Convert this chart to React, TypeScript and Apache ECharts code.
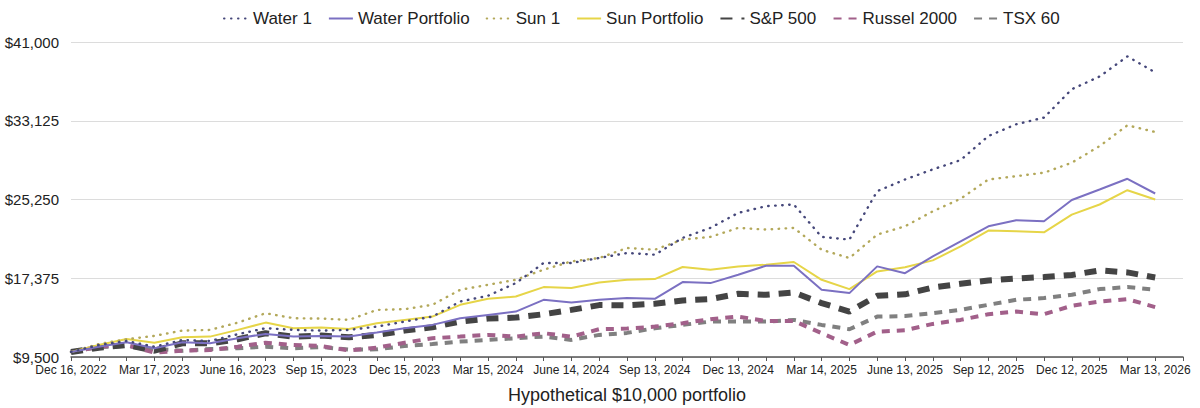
import React, { useEffect, useRef } from "react";
import * as echarts from "echarts";

const categories: string[] = [
  "Dec 16, 2022", "Jan 13, 2023", "Feb 10, 2023", "Mar 17, 2023", "Apr 14, 2023", "May 12, 2023",
  "June 16, 2023", "July 14, 2023", "Aug 11, 2023", "Sep 15, 2023", "Oct 13, 2023", "Nov 10, 2023",
  "Dec 15, 2023", "Jan 12, 2024", "Feb 9, 2024", "Mar 15, 2024", "Apr 12, 2024", "May 10, 2024",
  "June 14, 2024", "July 12, 2024", "Aug 9, 2024", "Sep 13, 2024", "Oct 11, 2024", "Nov 8, 2024",
  "Dec 13, 2024", "Jan 10, 2025", "Feb 7, 2025", "Mar 14, 2025", "Apr 11, 2025", "May 9, 2025",
  "June 13, 2025", "July 11, 2025", "Aug 8, 2025", "Sep 12, 2025", "Oct 10, 2025", "Nov 7, 2025",
  "Dec 12, 2025", "Jan 9, 2026", "Feb 6, 2026", "Mar 13, 2026", "Apr 10, 2026",
];

const water1: number[] = [
  10000, 10700, 11100, 10530, 11200, 11100, 11780, 12380, 12210, 12140,
  12210, 12540, 13040, 13540, 15050, 15620, 16890, 18900, 18900, 19400,
  19900, 19730, 21410, 22410, 23910, 24580, 24750, 21510, 21240, 26080,
  27250, 28260, 29190, 31600, 32770, 33440, 36280, 37550, 39560, 37960,
];
const waterPortfolio: number[] = [
  10000, 10530, 10970, 10370, 10970, 10870, 11380, 11810, 11540, 11610,
  11560, 11940, 12380, 12710, 13380, 13710, 14040, 15220, 14950, 15220,
  15390, 15320, 16990, 16890, 17730, 18630, 18630, 16220, 15890, 18560,
  17880, 19560, 21070, 22570, 23170, 23070, 25200, 26250, 27320, 25850,
];
const sun1: number[] = [
  10000, 10800, 11280, 11610, 12140, 12210, 12940, 13880, 13380, 13340,
  13210, 14210, 14280, 14720, 16220, 16720, 17220, 18230, 19060, 19400,
  20400, 20230, 21240, 21510, 22410, 22240, 22410, 20230, 19400, 21740,
  22570, 24070, 25320, 27250, 27580, 27930, 28930, 30590, 32670, 32000,
];
const sunPortfolio: number[] = [
  10000, 10700, 11310, 10930, 11480, 11540, 12210, 12940, 12380, 12440,
  12310, 12880, 13210, 13540, 14720, 15320, 15550, 16490, 16390, 16950,
  17220, 17290, 18500, 18230, 18560, 18730, 19000, 17220, 16290, 18060,
  18480, 19160, 20560, 22140, 22070, 21970, 23740, 24750, 26180, 25250,
];
const sp500: number[] = [
  10000, 10430, 10700, 10130, 10870, 10870, 11280, 11880, 11540, 11640,
  11480, 11710, 12140, 12480, 13040, 13340, 13440, 13780, 14210, 14690,
  14670, 14820, 15150, 15290, 15820, 15720, 15950, 14890, 14040, 15620,
  15770, 16450, 16820, 17150, 17350, 17490, 17700, 18160, 17960, 17450,
];
const russel2000: number[] = [
  10000, 10530, 10700, 9930, 10130, 10200, 10530, 10930, 10700, 10600,
  10150, 10430, 10930, 11380, 11540, 11710, 11540, 11880, 11540, 12280,
  12340, 12540, 12880, 13280, 13540, 13110, 13110, 11880, 10700, 12040,
  12170, 12810, 13210, 13780, 14040, 13780, 14620, 15050, 15290, 14490,
];
const tsx60: number[] = [
  10000, 10500, 10600, 10300, 10130, 10300, 10370, 10530, 10370, 10500,
  10230, 10270, 10600, 10800, 11040, 11210, 11380, 11540, 11210, 11710,
  11910, 12380, 12710, 13040, 13040, 13040, 13210, 12710, 12280, 13540,
  13590, 13880, 14210, 14720, 15220, 15390, 15720, 16290, 16490, 16220,
];

const yTicks: number[] = [9500, 17375, 25250, 33125, 41000];

const FONT = "'Liberation Sans', Arial, Helvetica, sans-serif";

export default function App() {
  const ref = useRef<HTMLDivElement>(null);
  useEffect(() => {
    if (!ref.current) return;
    const chart = echarts.init(ref.current, null, { renderer: "svg" });
    const mk = (name: string, data: number[], color: string, width: number, type: any, z: number, cap = "butt") => ({
      name,
      type: "line",
      data,
      symbol: "none",
      showSymbol: false,
      z,
      itemStyle: { color },
      lineStyle: { color, width, type, cap },
    });
    chart.setOption({
      animation: false,
      textStyle: { fontFamily: FONT },
      legend: {
        top: 5,
        left: 218,
        itemWidth: 24,
        itemHeight: 8,
        itemGap: 16,
        itemStyle: { opacity: 0 },
        textStyle: { fontSize: 17, color: "#222", fontFamily: FONT },
        data: ["Water 1", "Water Portfolio", "Sun 1", "Sun Portfolio", "S&P 500", "Russel 2000", "TSX 60"],
      },
      grid: { left: 71, right: 17, top: 42, bottom: 51, containLabel: false, outerBoundsMode: "none" },
      xAxis: {
        type: "category",
        data: categories,
        boundaryGap: false,
        name: "Hypothetical $10,000 portfolio",
        nameLocation: "middle",
        nameGap: 29,
        nameMoveOverlap: false,
        nameTextStyle: { fontSize: 18, color: "#222", fontFamily: FONT },
        axisLine: { lineStyle: { color: "#555", width: 1.5 } },
        axisTick: { show: true, interval: 0, length: 4, lineStyle: { color: "#555" } },
        axisLabel: { interval: 2, fontSize: 12, color: "#222", margin: 7, fontFamily: FONT },
        splitLine: { show: false },
      },
      yAxis: {
        type: "value",
        min: 9500,
        max: 41000,
        axisLine: { show: false },
        axisTick: { show: false, customValues: yTicks },
        axisLabel: {
          customValues: yTicks,
          fontSize: 15,
          color: "#222",
          margin: 12,
          fontFamily: FONT,
          formatter: (v: number) => "$" + v.toLocaleString("en-US"),
        },
        splitLine: { show: true, lineStyle: { color: "#dcdcdc", width: 1 } },
      },
      series: [
        mk("Water 1", water1, "#45477a", 2.4, [0.5, 6.5], 7, "round"),
        mk("Water Portfolio", waterPortfolio, "#7b70c2", 2, "solid", 6),
        mk("Sun 1", sun1, "#b3a85a", 2.4, [0.5, 6.5], 5, "round"),
        mk("Sun Portfolio", sunPortfolio, "#e6d548", 2, "solid", 4),
        mk("S&P 500", sp500, "#444444", 6, [12, 9], 3),
        mk("Russel 2000", russel2000, "#a2608a", 4, [8, 7], 2),
        mk("TSX 60", tsx60, "#808080", 4, [8, 7], 1),
      ],
    });
    return () => chart.dispose();
  }, []);
  return (
    <div
      ref={ref}
      style={{ position: "absolute", left: 0, top: 0, width: 1200, height: 408 }}
    />
  );
}
